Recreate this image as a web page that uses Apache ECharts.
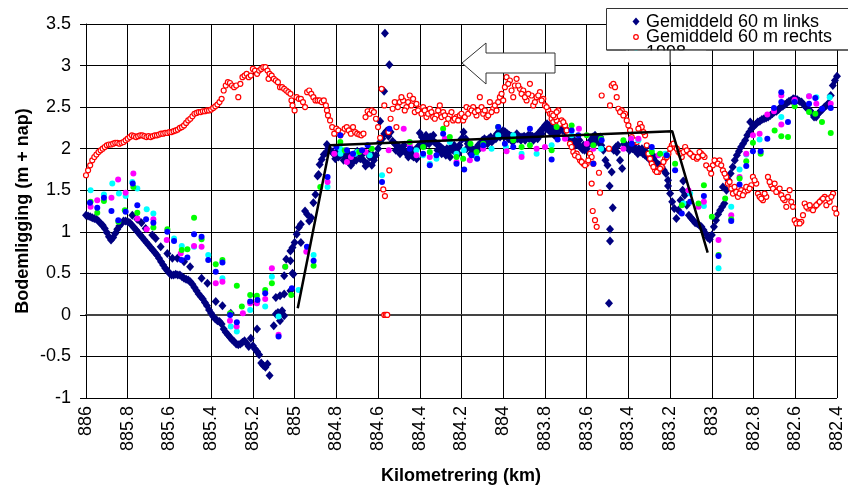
<!DOCTYPE html>
<html>
<head>
<meta charset="utf-8">
<script src="https://cdn.jsdelivr.net/npm/echarts@6/dist/echarts.min.js"></script>
<style>
  html, body { margin: 0; padding: 0; background: #fff; }
  #chart { width: 848px; height: 486px; }
</style>
</head>
<body>
<div id="chart"></div>
<script>
const FONT = '"Liberation Sans", Arial, sans-serif';

// Axis ranges (km runs downstream, drawn right-to-left)
const kmMin = 882.4, kmMax = 886, kmStep = 0.2;
const levelMin = -1, levelMax = 3.5, levelStep = 0.5;

const xTitle = 'Kilometrering (km)';
const yTitle = 'Bodemligging (m + nap)';
const legendNames = ['Gemiddeld 60 m links', 'Gemiddeld 60 m rechts', '1998'];

// Gemiddeld 60 m links  [km, m + nap]
const links = [
  [886.00,1.20],[885.99,1.19],[885.98,1.18],[885.97,1.17],[885.96,1.16],[885.95,1.15],[885.94,1.13],[885.93,1.10],[885.92,1.08],[885.91,1.04],
  [885.90,0.99],[885.89,0.94],[885.88,0.90],[885.87,0.93],[885.86,0.98],[885.85,1.03],[885.84,1.07],[885.83,1.10],[885.82,1.13],[885.81,1.13],
  [885.80,1.12],[885.79,1.11],[885.78,1.08],[885.77,1.05],[885.76,1.02],[885.75,0.99],[885.74,0.96],[885.73,0.93],[885.72,0.90],[885.71,0.87],
  [885.70,0.84],[885.69,0.81],[885.68,0.78],[885.67,0.75],[885.66,0.72],[885.65,0.68],[885.64,0.64],[885.63,0.60],[885.62,0.56],[885.61,0.53],
  [885.60,0.50],[885.59,0.48],[885.58,0.48],[885.57,0.49],[885.56,0.48],[885.55,0.48],[885.54,0.46],[885.53,0.44],[885.52,0.43],[885.51,0.42],
  [885.50,0.40],[885.49,0.37],[885.48,0.33],[885.47,0.29],[885.46,0.25],[885.45,0.22],[885.44,0.19],[885.43,0.15],[885.42,0.11],[885.41,0.06],
  [885.40,0.02],[885.39,-0.02],[885.38,-0.05],[885.37,-0.07],[885.36,-0.08],[885.35,-0.11],[885.34,-0.17],[885.33,-0.21],[885.32,-0.24],[885.31,-0.27],
  [885.30,-0.30],[885.29,-0.32],[885.28,-0.35],[885.27,-0.36],[885.26,-0.35],[885.25,-0.33],[885.24,-0.31],[885.23,-0.34],[885.22,-0.38],[885.21,-0.28],
  [885.20,-0.37],[885.19,-0.41],[885.18,-0.44],[885.17,-0.48],[885.16,-0.58],[885.15,-0.61],[885.14,-0.63],[885.13,-0.59],[885.12,-0.73],[885.18,-0.17],
  [885.778,1.20],[885.754,1.15],[885.734,1.11],[885.714,1.04],[885.682,0.96],[885.666,0.92],[885.642,0.82],[885.61,0.74],[885.586,0.68],[885.562,0.68],
  [885.53,0.64],[885.501,0.58],[885.446,0.44],[885.418,0.38],[885.378,0.16],[885.346,0.11],[885.306,0.02],
  [885.10,-0.13],[885.09,0.01],[885.08,0.03],[885.07,-0.07],[885.06,0.05],[885.05,-0.01],[885.09,0.21],[885.07,0.23],[885.05,0.25],[885.02,0.29],
  [885.05,0.47],[885.01,0.50],[885.006,0.49],[885.04,0.67],[885.02,0.65],[885.02,0.77],[885.01,0.81],[885.00,0.87],[884.97,0.87],[884.99,0.97],
  [884.98,1.05],[884.97,1.09],[884.95,1.25],[884.94,1.21],[884.93,1.13],[884.92,1.17],[884.91,1.35],[884.90,1.45],[884.89,1.67],[884.885,1.69],
  [884.88,1.81],[884.87,1.87],[884.86,1.93],[884.85,1.95],[884.845,2.05],
  [884.84,2.00],[884.83,1.98],[884.82,1.96],[884.81,1.93],[884.80,1.95],[884.79,1.90],[884.78,1.93],[884.77,1.95],[884.76,1.92],[884.75,1.96],
  [884.74,1.88],[884.73,1.80],[884.72,1.84],[884.71,1.92],[884.70,1.97],[884.69,1.95],[884.68,1.92],[884.67,1.86],[884.66,1.79],[884.65,1.82],
  [884.64,1.90],[884.63,1.80],[884.62,1.86],[884.61,1.92],[884.60,2.00],[884.59,2.08],[884.58,2.12],[884.57,2.18],[884.56,2.21],[884.55,2.15],
  [884.567,3.39],[884.546,3.01],[884.571,2.69],[884.59,2.33],[884.559,2.21],
  [884.54,2.20],[884.53,2.09],[884.52,2.06],[884.51,2.04],[884.50,2.02],[884.49,2.00],[884.48,1.98],[884.47,1.96],[884.46,1.94],[884.45,1.95],
  [884.44,1.92],[884.43,1.90],[884.42,1.91],[884.41,2.02],[884.40,2.19],[884.39,2.14],[884.38,2.10],[884.37,2.16],[884.36,2.12],[884.35,2.14],
  [884.34,2.10],[884.33,2.08],[884.32,2.06],[884.31,2.04],[884.30,2.02],[884.29,2.00],[884.28,1.98],[884.27,2.00],[884.26,1.96],[884.25,2.02],
  [884.24,1.98],[884.23,1.96],[884.22,2.00],[884.21,2.04],[884.20,2.12],[884.19,2.20],[884.18,2.12],[884.17,2.06],[884.16,2.02],[884.15,2.00],
  [884.14,1.98],[884.13,2.00],[884.12,2.04],[884.11,2.06],[884.10,2.10],[884.09,2.12],[884.08,2.10],[884.07,2.12],[884.06,2.14],[884.05,2.10],
  [884.04,2.14],[884.03,2.18],[884.02,2.20],[884.01,2.20],[884.00,2.22],[883.99,2.20],[883.98,2.18],[883.97,2.16],[883.96,2.15],[883.95,2.14],
  [883.94,2.12],[883.93,2.12],[883.92,2.14],[883.91,2.14],[883.90,2.15],[883.89,2.14],[883.88,2.16],[883.87,2.16],[883.86,2.15],[883.85,2.14],
  [883.84,2.16],[883.83,2.18],[883.82,2.22],[883.81,2.24],[883.80,2.28],[883.79,2.30],[883.78,2.28],[883.77,2.26],[883.76,2.22],[883.75,2.22],
  [883.74,2.26],[883.73,2.28],[883.72,2.28],[883.71,2.26],[883.70,2.24],[883.69,2.20],[883.68,2.16],[883.67,2.12],[883.66,2.10],[883.65,2.08],
  [883.64,2.04],[883.63,2.02],[883.62,1.99],[883.61,1.98],[883.60,2.00],[883.59,2.06],[883.58,2.10],[883.57,2.14],[883.56,2.16],[883.55,2.12],
  [883.54,2.08],[883.53,2.04],[883.52,1.98],[883.51,1.86],[883.50,1.80],[883.49,1.55],[883.48,1.72],[883.475,1.29],[883.488,1.03],[883.488,0.89],
  [883.493,0.14],[883.47,1.98],[883.46,2.02],[883.45,2.04],[883.44,1.86],[883.43,1.76],[883.42,2.06],[883.41,2.04],[883.40,2.02],[883.39,2.04],
  [883.38,2.00],[883.37,1.98],[883.36,1.98],[883.35,2.00],[883.34,1.96],[883.33,1.94],[883.32,1.92],[883.31,1.90],[883.30,1.92],[883.29,1.90],
  [883.28,1.86],[883.27,1.84],[883.26,1.82],[883.25,1.80],[883.24,1.78],[883.23,1.74],[883.22,1.70],[883.21,1.62],[883.21,1.55],[883.20,1.46],
  [883.19,1.36],[883.18,1.28],[883.17,1.16],[883.16,1.26],[883.15,1.38],[883.14,1.50],[883.137,1.61],[883.13,1.44],[883.12,1.32],[883.11,1.20],
  [883.10,1.17],[883.09,1.14],[883.08,1.11],[883.07,1.10],[883.06,1.08],[883.05,1.06],[883.04,1.02],[883.03,0.98],[883.02,0.93],[883.01,0.91],
  [883.00,0.96],[882.99,1.06],[882.98,1.14],[882.97,1.21],[882.96,1.26],[882.95,1.30],[882.947,1.54],[882.94,1.34],[882.93,1.50],[882.92,1.62],
  [882.91,1.70],[882.90,1.78],[882.89,1.86],[882.88,1.92],[882.87,1.97],[882.86,2.02],[882.85,2.06],[882.84,2.10],[882.83,2.16],[882.82,2.20],
  [882.816,2.32],[882.81,2.24],[882.80,2.27],[882.79,2.29],[882.78,2.32],[882.77,2.33],[882.76,2.35],[882.75,2.36],[882.74,2.37],[882.73,2.38],
  [882.72,2.40],[882.71,2.42],[882.70,2.44],[882.69,2.45],[882.68,2.47],[882.67,2.50],[882.66,2.51],[882.65,2.53],[882.64,2.55],[882.63,2.57],
  [882.62,2.58],[882.61,2.60],[882.60,2.60],[882.59,2.59],[882.58,2.57],[882.57,2.56],[882.56,2.53],[882.55,2.50],[882.54,2.48],[882.53,2.46],
  [882.52,2.43],[882.51,2.38],[882.50,2.38],[882.49,2.42],[882.48,2.45],[882.47,2.47],[882.46,2.50],[882.45,2.52],[882.44,2.55],[882.43,2.64],
  [882.42,2.76],[882.41,2.82],[882.40,2.87],
  [884.805,1.88],[884.785,1.96],[884.765,1.86],[884.745,1.94],[884.725,1.90],[884.705,1.86],[884.685,1.88],[884.665,1.96],[884.645,1.94],[884.625,1.92],
  [884.515,1.98],[884.495,1.94],[884.475,2.04],[884.455,1.90],[884.435,1.98],[884.415,1.88],[884.395,2.06],[884.375,2.04],[884.355,2.06],[884.335,2.16],
  [884.315,1.98],[884.295,1.94],[884.275,1.92],[884.255,1.90],[884.235,2.04],[884.215,1.94],[884.195,2.12],[884.175,2.00],[884.155,1.94],[884.135,1.92],
  [884.115,2.00],[884.095,2.04],[884.075,2.06],[884.055,2.08],[884.035,2.12],[884.015,2.14],[883.995,2.14],[883.975,2.12],[883.955,2.08],[883.935,2.18],
  [883.915,2.10],[883.895,2.10],[883.875,2.12],[883.855,2.10],[883.835,2.12],[883.815,2.18],[883.795,2.24],[883.775,2.20],[883.755,2.16],[883.735,2.20],
  [883.715,2.22],[883.695,2.18],[883.675,2.10],[883.655,2.04],[883.635,2.10],[883.615,2.04],[883.575,2.06],[883.555,2.08],[883.535,2.14],[883.455,1.96],
  [883.395,1.98],[883.375,2.04],[883.355,1.94],[883.335,2.00],[883.315,1.96],[883.295,1.86],[883.275,1.90]
];

// Gemiddeld 60 m rechts  [km, m + nap]
const rechts = [
  [886.00,1.68],[885.99,1.74],[885.98,1.80],[885.97,1.86],[885.96,1.90],[885.95,1.93],[885.94,1.96],[885.93,1.98],[885.92,2.00],[885.91,2.02],
  [885.90,2.04],[885.89,2.05],[885.88,2.05],[885.87,2.06],[885.86,2.07],[885.85,2.07],[885.84,2.06],[885.83,2.07],[885.82,2.08],[885.81,2.10],
  [885.80,2.12],[885.79,2.14],[885.78,2.16],[885.77,2.15],[885.76,2.14],[885.75,2.15],[885.74,2.16],[885.73,2.16],[885.72,2.15],[885.71,2.14],
  [885.70,2.15],[885.69,2.14],[885.68,2.15],[885.67,2.16],[885.66,2.16],[885.65,2.17],[885.64,2.18],[885.63,2.18],[885.62,2.19],[885.61,2.19],
  [885.60,2.20],[885.59,2.20],[885.58,2.21],[885.57,2.22],[885.56,2.23],[885.55,2.25],[885.54,2.26],[885.53,2.28],[885.52,2.31],[885.51,2.34],
  [885.50,2.36],[885.49,2.39],[885.48,2.42],[885.47,2.43],[885.46,2.44],[885.45,2.44],[885.44,2.45],[885.43,2.45],[885.42,2.46],[885.41,2.46],
  [885.40,2.47],[885.39,2.49],[885.38,2.51],[885.37,2.53],[885.36,2.56],[885.35,2.60],[885.34,2.70],[885.33,2.76],[885.32,2.80],[885.31,2.79],
  [885.30,2.76],[885.29,2.74],[885.28,2.76],[885.27,2.62],[885.26,2.78],[885.25,2.86],[885.24,2.88],[885.23,2.90],[885.22,2.86],[885.21,2.88],
  [885.20,2.96],[885.19,2.94],[885.18,2.90],[885.17,2.94],[885.16,2.96],[885.15,2.98],[885.14,2.98],[885.13,2.94],[885.125,2.84],[885.12,2.90],
  [885.11,2.88],[885.10,2.84],[885.09,2.82],[885.08,2.80],[885.07,2.74],[885.06,2.74],[885.05,2.72],[885.04,2.70],[885.03,2.68],[885.02,2.66],
  [885.015,2.58],[885.01,2.52],[885.00,2.46],[884.99,2.62],[884.98,2.60],[884.97,2.60],[884.96,2.56],[884.95,2.50],[884.94,2.68],[884.93,2.70],
  [884.92,2.66],[884.91,2.62],[884.90,2.58],[884.89,2.58],[884.88,2.58],[884.87,2.56],[884.86,2.58],[884.85,2.52],[884.845,2.46],[884.84,2.40],
  [884.83,2.34],[884.82,2.26],[884.81,2.18],[884.80,2.24],[884.79,2.22],[884.78,2.16],[884.77,2.20],[884.76,2.24],[884.75,2.26],[884.74,2.22],
  [884.73,2.18],[884.72,2.26],[884.71,2.20],[884.70,2.18],[884.69,2.17],[884.68,2.16],[884.67,2.18],[884.66,2.38],[884.65,2.45],[884.64,2.42],
  [884.63,2.46],[884.62,2.44],[884.61,2.36],[884.60,2.26],[884.59,2.13],[884.583,2.72],[884.57,2.52],[884.546,1.74],[884.575,1.51],[884.567,1.43],
  [884.57,0],[884.562,0],[884.556,0],
  [884.55,2.20],[884.54,2.36],[884.53,2.48],[884.52,2.56],
  [884.512,2.26],[884.496,2.56],[884.48,2.58],[884.464,2.50],[884.448,2.64],[884.432,2.60],[884.416,2.54],[884.40,2.48],[884.384,2.50],[884.368,2.38],
  [884.352,2.48],[884.336,2.38],[884.32,2.40],[884.304,2.52],[884.288,2.44],[884.272,2.30],[884.256,2.40],[884.24,2.34],[884.224,2.38],[884.208,2.40],
  [884.192,2.34],[884.176,2.50],[884.16,2.48],[884.144,2.50],[884.128,2.40],[884.112,2.62],[884.096,2.42],[884.08,2.38],[884.064,2.56],[884.048,2.48],
  [884.032,2.46],[884.016,2.62],[884.00,2.58],[883.992,2.74],[883.984,2.86],[883.968,2.82],[883.952,2.62],[883.944,2.76],[883.936,2.84],[883.92,2.72],
  [883.904,2.70],[883.888,2.58],[883.872,2.78],[883.864,2.64],[883.856,2.52],[883.84,2.62],[883.824,2.68],[883.808,2.60],[883.80,2.52],[883.784,2.46],
  [883.768,2.36],[883.76,2.32],[883.744,2.34],
  [884.505,2.50],[884.488,2.62],[884.472,2.46],[884.456,2.56],[884.44,2.52],[884.424,2.44],[884.408,2.46],[884.392,2.42],[884.376,2.46],[884.36,2.42],
  [884.344,2.44],[884.328,2.36],[884.312,2.46],[884.296,2.38],[884.28,2.40],[884.264,2.36],[884.248,2.44],[884.232,2.36],[884.216,2.34],[884.20,2.42],
  [884.184,2.38],[884.168,2.42],[884.152,2.46],[884.136,2.44],[884.12,2.46],[884.104,2.50],[884.088,2.46],[884.072,2.40],[884.056,2.44],[884.04,2.52],
  [884.024,2.56],[884.008,2.66],[883.976,2.78],[883.96,2.70],[883.928,2.76],[883.912,2.66],[883.896,2.62],[883.88,2.66],[883.848,2.56],[883.832,2.64],
  [883.816,2.58],[883.792,2.50],[883.776,2.42],[883.752,2.38],
  [883.768,2.42],[883.752,2.38],[883.736,2.46],[883.72,2.34],[883.704,2.28],[883.688,2.18],[883.68,2.06],[883.664,1.96],[883.648,1.94],[883.632,1.86],
  [883.616,1.82],[883.60,1.82],[883.584,1.94],[883.576,1.90],[883.568,1.82],[883.541,1.71],[883.536,1.47],[883.576,1.58],[883.571,1.25],[883.56,1.14],
  [883.552,1.06],[883.528,2.64],[883.493,2.00],[883.488,2.52],[883.48,2.76],[883.472,2.78],[883.464,2.74],[883.456,2.62],[883.448,2.48],[883.432,2.46],
  [883.416,2.42],[883.408,2.34],[883.392,2.22],[883.376,2.08],[883.36,2.08],[883.344,2.30],[883.336,2.26],[883.32,2.16],[883.304,1.94],[883.288,1.82],
  [883.272,1.74],[883.256,1.72],[883.24,1.78],[883.224,1.88],[883.208,1.94],[883.192,2.04],[883.176,2.02],[883.16,1.96],[883.144,1.90],[883.128,2.02],
  [883.112,1.96],[883.096,1.92],[883.08,1.90],[883.064,1.90],
  [883.76,2.40],[883.744,2.44],[883.728,2.30],[883.712,2.32],[883.696,2.22],[883.672,2.02],[883.656,1.92],[883.64,1.90],[883.624,1.84],[883.608,1.80],
  [883.592,1.86],[883.44,2.44],[883.424,2.40],[883.40,2.28],[883.384,2.14],[883.368,2.10],[883.352,2.24],[883.328,2.20],[883.312,2.04],[883.296,1.88],
  [883.28,1.78],[883.264,1.72],[883.248,1.76],[883.232,1.84],[883.216,1.90],[883.20,2.00],[883.184,2.06],[883.168,2.00],[883.152,1.94],[883.136,1.96],
  [883.12,1.98],[883.104,1.94],[883.088,1.90],[883.072,1.88],
  [883.067,1.90],[883.051,1.94],[883.035,1.90],[883.027,1.80],[883.003,1.70],[882.995,1.80],[882.979,1.84],[882.963,1.86],[882.947,1.74],[882.931,1.66],
  [882.923,1.58],[882.907,1.52],[882.891,1.54],[882.875,1.42],[882.859,1.50],[882.843,1.48],[882.827,1.50],[882.811,1.56],[882.803,1.66],[882.787,1.58],
  [882.779,1.46],[882.755,1.38],[882.739,1.42],[882.731,1.66],[882.715,1.56],[882.699,1.58],[882.683,1.50],[882.667,1.44],[882.651,1.38],[882.643,1.30],
  [882.627,1.50],[882.611,1.30],[882.603,1.14],[882.587,1.12],[882.571,1.12],[882.555,1.34],[882.539,1.28],[882.523,1.28],[882.507,1.30],[882.491,1.34],
  [882.475,1.38],[882.459,1.42],[882.451,1.32],[882.435,1.36],[882.419,1.46],[882.411,1.28],[882.403,1.22],
  [883.059,1.96],[883.043,1.92],[883.011,1.76],[882.987,1.86],[882.971,1.82],[882.955,1.80],[882.939,1.70],[882.915,1.60],[882.899,1.46],[882.883,1.48],
  [882.867,1.46],[882.851,1.44],[882.835,1.54],[882.819,1.52],[882.795,1.62],[882.771,1.42],[882.763,1.40],[882.747,1.46],[882.723,1.60],[882.707,1.52],
  [882.691,1.48],[882.675,1.52],[882.659,1.40],[882.635,1.42],[882.619,1.36],[882.595,1.10],[882.579,1.10],[882.563,1.20],[882.547,1.30],[882.531,1.32],
  [882.515,1.26],[882.499,1.32],[882.483,1.36],[882.467,1.40],[882.443,1.40],[882.427,1.42]
];

// Single soundings  [km, m + nap]
const peiling1998 = [
  [885.978,1.50],[885.914,1.45],[885.874,1.58],[885.842,1.46],[885.81,1.43],[885.778,1.60],[885.754,1.52],[885.709,1.27],[885.677,1.22],[885.578,0.92],
  [885.541,0.83],[885.482,0.82],[885.414,0.72],[885.346,0.44],[885.306,-0.14],[885.277,-0.20],[885.213,0.06],[885.181,0.14],[885.141,0.10],[885.109,0.46],
  [885.077,-0.02],[884.981,0.30],[884.909,0.72],[884.842,1.54],[884.781,2.00],[884.78,1.94],[884.71,1.94],[884.70,1.96],[884.64,1.92],[884.581,1.68],
  [884.416,1.98],[884.384,1.92],[884.352,1.82],[884.32,1.88],[884.256,2.08],[884.224,1.94],[884.189,1.98],[884.128,1.90],[884.056,2.00],[884.024,2.16],
  [883.987,2.02],[883.952,2.16],[883.912,1.94],[883.84,1.94],[883.768,2.04],[883.672,2.16],[883.531,2.00],[883.387,2.12],[883.352,2.10],[883.288,1.98],
  [883.224,1.94],[883.136,1.34],[883.104,1.46],[883.038,1.31],[882.968,0.56],[882.907,1.30],[882.867,1.75],[882.835,1.93],[882.771,2.11],[882.667,2.38],
  [882.603,2.58],[882.534,2.63],[882.499,2.62],[882.435,2.62]
];
const peilingMagenta = [
  [885.978,1.30],[885.946,1.38],[885.878,1.41],[885.846,1.63],[885.81,1.47],[885.773,1.70],[885.754,1.16],[885.709,1.03],[885.677,1.15],[885.613,0.90],
  [885.546,0.74],[885.482,0.83],[885.446,0.82],[885.378,0.38],[885.346,0.40],[885.31,-0.07],[885.278,-0.14],[885.248,0.02],[885.213,0.14],[885.181,0.14],
  [885.141,0.19],[885.109,0.56],[885.077,-0.24],[885.045,0.58],[884.944,0.76],[884.842,1.60],[884.81,1.94],[884.749,1.84],[884.73,1.90],[884.66,1.96],
  [884.549,1.98],[884.477,2.24],[884.448,2.04],[884.416,1.92],[884.352,1.90],[884.28,2.12],[884.224,1.84],[884.16,1.86],[884.096,2.00],[883.984,1.97],
  [883.912,1.90],[883.84,2.00],[883.80,2.02],[883.704,2.12],[883.637,2.24],[883.60,2.06],[883.568,2.00],[883.424,2.00],[883.387,2.12],[883.352,2.12],
  [883.256,1.92],[883.112,1.50],[883.064,1.30],[883.038,1.36],[882.968,0.90],[882.907,1.20],[882.867,1.66],[882.835,1.94],[882.803,2.16],[882.771,2.18],
  [882.734,2.41],[882.702,2.45],[882.667,2.29],[882.667,2.64],[882.603,2.59],[882.534,2.63],[882.499,2.54],[882.43,2.54]
];
const peilingGroen = [
  [885.978,1.36],[885.946,1.23],[885.914,1.37],[885.845,1.12],[885.814,1.26],[885.773,1.54],[885.754,1.23],[885.677,1.05],[885.61,1.03],[885.541,0.78],
  [885.514,0.79],[885.482,1.17],[885.446,0.91],[885.378,0.61],[885.346,0.66],[885.309,0.02],[885.277,0.35],[885.253,0.10],[885.213,0.24],[885.181,0.23],
  [885.141,0.30],[885.109,0.38],[885.045,0.58],[885.016,0.24],[884.909,0.59],[884.877,1.54],[884.781,2.08],[884.76,1.98],[884.69,1.96],[884.63,2.00],
  [884.448,2.08],[884.384,2.02],[884.352,1.96],[884.288,2.24],[884.256,2.14],[884.224,1.90],[884.192,1.88],[884.157,2.06],[884.128,1.96],[884.096,2.06],
  [884.024,2.26],[883.952,2.10],[883.912,2.02],[883.872,2.04],[883.768,1.98],[883.744,2.26],[883.672,2.28],[883.60,2.16],[883.568,2.04],[883.531,2.12],
  [883.424,2.10],[883.288,1.96],[883.248,1.94],[883.216,1.92],[883.176,1.82],[883.144,1.32],[883.064,1.34],[883.038,1.56],[883.00,1.18],[882.968,0.72],
  [882.936,1.40],[882.907,1.15],[882.867,1.64],[882.835,1.85],[882.803,2.07],[882.766,1.94],[882.699,2.22],[882.667,2.15],[882.635,2.14],[882.603,2.51],
  [882.534,2.44],[882.504,2.42],[882.472,2.32],[882.43,2.19]
];
const peilingBlauw = [
  [885.981,1.35],[885.946,1.29],[885.914,1.41],[885.878,1.25],[885.845,1.14],[885.81,1.24],[885.776,1.58],[885.754,1.32],[885.712,1.15],[885.677,1.11],
  [885.61,1.00],[885.578,0.89],[885.542,0.66],[885.514,0.69],[885.482,0.97],[885.446,0.94],[885.414,0.66],[885.378,0.52],[885.346,0.63],[885.309,0.00],
  [885.277,-0.09],[885.213,0.16],[885.178,0.18],[885.141,0.26],[885.077,-0.26],[885.013,0.32],[884.941,0.82],[884.909,0.65],[884.842,1.66],[884.80,2.02],
  [884.781,2.16],[884.749,1.98],[884.72,1.94],[884.677,1.98],[884.65,2.04],[884.581,1.60],[884.546,2.24],[884.448,2.00],[884.384,1.94],[884.352,1.80],
  [884.32,1.92],[884.288,2.18],[884.224,1.82],[884.187,1.75],[884.152,1.92],[884.125,1.88],[884.096,2.04],[884.024,2.26],[883.992,2.06],[883.952,2.02],
  [883.872,2.24],[883.768,1.87],[883.739,2.11],[883.672,2.22],[883.64,2.16],[883.568,1.82],[883.528,2.10],[883.384,2.06],[883.288,2.02],[883.216,1.92],
  [883.176,1.74],[883.144,1.22],[883.104,1.36],[883.038,1.43],[882.968,0.71],[882.907,1.13],[882.867,1.57],[882.835,1.79],[882.803,1.97],[882.766,1.97],
  [882.734,2.12],[882.702,2.49],[882.667,2.68],[882.667,2.56],[882.635,2.32],[882.603,2.56],[882.534,2.54],[882.504,2.61],[882.472,2.48],[882.43,2.49]
];

// Schematised bed profile
const profiel = [[884.985,0.08],[884.83,2.04],[883.19,2.21],[883.02,0.75]];

const chart = echarts.init(document.getElementById('chart'), null, { renderer: 'canvas' });

function dots(name, data, color) {
  return {
    name, type: 'scatter', data, symbol: 'circle', symbolSize: 6,
    itemStyle: { color, opacity: 1 }, z: 4, silent: true
  };
}

const option = {
  animation: false,
  backgroundColor: '#fff',
  textStyle: { fontFamily: FONT },
  grid: { left: 86, right: 11, top: 24, bottom: 88, containLabel: false },
  xAxis: {
    type: 'value', inverse: true, min: kmMin, max: kmMax, interval: kmStep,
    axisLine: { show: true, lineStyle: { color: '#444', width: 2 } },
    axisTick: { show: true, inside: false, length: 6, lineStyle: { color: '#000', width: 1 } },
    axisLabel: { rotate: 90, fontSize: 18, color: '#000', fontFamily: FONT, margin: 8 },
    splitLine: { show: true, lineStyle: { color: '#000', width: 1 } }
  },
  yAxis: {
    type: 'value', min: levelMin, max: levelMax, interval: levelStep,
    axisLine: { show: true, lineStyle: { color: '#000', width: 1 } },
    axisTick: { show: true, inside: false, length: 6, lineStyle: { color: '#000', width: 1 } },
    axisLabel: { fontSize: 18, color: '#000', fontFamily: FONT, margin: 15 },
    splitLine: { show: true, lineStyle: { color: '#000', width: 1 } }
  },
  series: [
    {
      name: legendNames[0], type: 'scatter', data: links, symbol: 'diamond', symbolSize: [8, 9],
      itemStyle: { color: '#000080', opacity: 1 }, z: 2, silent: true
    },
    {
      name: legendNames[1], type: 'scatter', data: rechts, symbol: 'circle', symbolSize: 5,
      itemStyle: { color: '#fff', borderColor: '#ff0000', borderWidth: 1.2, opacity: 1 }, z: 3, silent: true
    },
    dots(legendNames[2], peiling1998, '#00ffff'),
    dots('magenta', peilingMagenta, '#ff00ff'),
    dots('groen', peilingGroen, '#00ff00'),
    dots('blauw', peilingBlauw, '#0000ff'),
    {
      name: 'profiel', type: 'line', data: profiel, symbol: 'none',
      lineStyle: { color: '#000', width: 2.5 }, z: 6, silent: true
    }
  ]
};
chart.setOption(option);

// Overlays: arrow, legend frame and axis titles
const gx = chart.convertToPixel({ xAxisIndex: 0 }, 883.2);
const top3 = chart.convertToPixel({ yAxisIndex: 0 }, 3.0);
const legendFont = '18px ' + FONT;
const titleFont = 'bold 18px ' + FONT;

chart.setOption({
  graphic: [
    {
      type: 'polygon', z: 100, silent: true,
      shape: { points: [[462, 63], [486, 43], [486, 53], [555, 53], [555, 73], [486, 73], [486, 84]] },
      style: { fill: '#fff', stroke: '#333', lineWidth: 1 }
    },
    {
      type: 'rect', z: 100, silent: true,
      shape: { x: 606.5, y: 8.5, width: 260, height: 41.5 },
      style: { fill: '#fff', stroke: '#333', lineWidth: 1 }
    },
    {
      type: 'polygon', z: 101, silent: true,
      shape: { points: [[636, 17.5], [639.5, 21.5], [636, 25.5], [632.5, 21.5]] },
      style: { fill: '#000080' }
    },
    {
      type: 'circle', z: 101, silent: true,
      shape: { cx: 636, cy: 37, r: 2.3 },
      style: { fill: '#fff', stroke: '#ff0000', lineWidth: 1.2 }
    },
    {
      type: 'circle', z: 101, silent: true,
      shape: { cx: 636, cy: 52.5, r: 2.5 },
      style: { fill: '#00ffff' }
    },
    { type: 'text', z: 101, silent: true, x: 646, y: 22, style: { text: legendNames[0], font: legendFont, fill: '#000', verticalAlign: 'middle' } },
    { type: 'text', z: 101, silent: true, x: 646, y: 37.5, style: { text: legendNames[1], font: legendFont, fill: '#000', verticalAlign: 'middle' } },
    { type: 'text', z: 101, silent: true, x: 646, y: 53, style: { text: legendNames[2], font: legendFont, fill: '#000', verticalAlign: 'middle' } },
    // the frame clips the third entry: hide what falls below it
    {
      type: 'rect', z: 102, silent: true,
      shape: { x: 626, y: 50.6, width: 80, height: Math.min(12, top3 - 51.5) },
      style: { fill: '#fff' }
    },
    {
      type: 'line', z: 103, silent: true,
      shape: { x1: gx, y1: 50, x2: gx, y2: top3 },
      style: { stroke: '#000', lineWidth: 1 }
    },
    {
      type: 'line', z: 103, silent: true,
      shape: { x1: 606.5, y1: 50, x2: 848, y2: 50 },
      style: { stroke: '#333', lineWidth: 1 }
    },
    {
      type: 'text', z: 100, silent: true, x: 461, y: 476,
      style: { text: xTitle, font: titleFont, fill: '#000', align: 'center', verticalAlign: 'middle' }
    },
    {
      type: 'text', z: 100, silent: true, x: 23, y: 211, rotation: Math.PI / 2,
      style: { text: yTitle, font: titleFont, fill: '#000', align: 'center', verticalAlign: 'middle' }
    }
  ]
});
</script>
</body>
</html>
